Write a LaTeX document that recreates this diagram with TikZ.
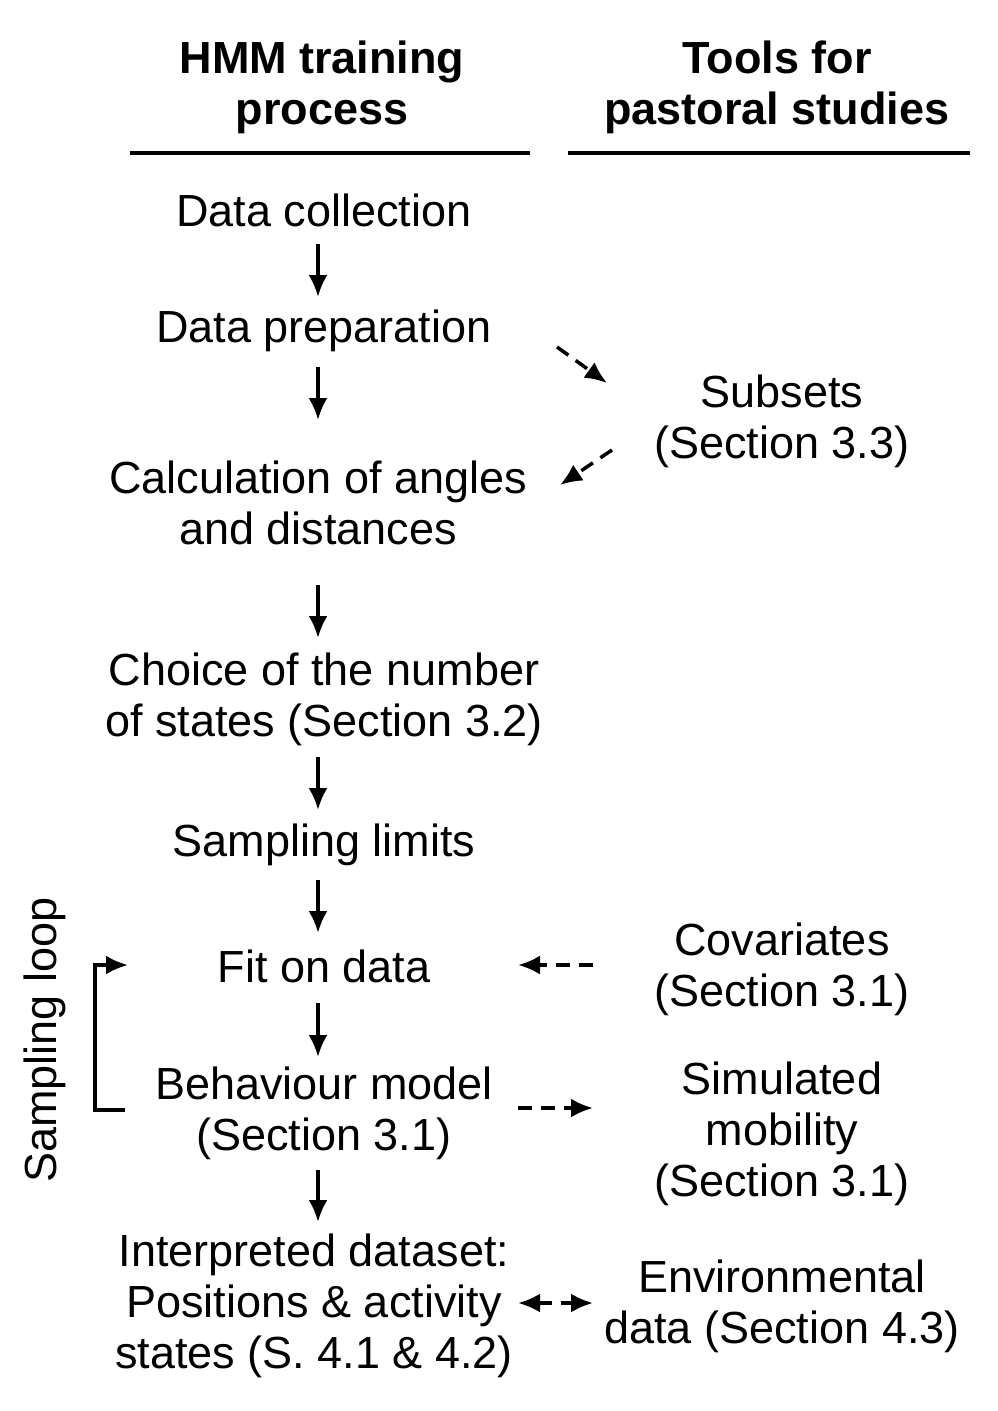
\documentclass[tikz,border=0pt]{standalone}
\usepackage{fontspec}
\setmainfont{Liberation Sans}
\usetikzlibrary{arrows.meta}
\begin{document}
\begin{tikzpicture}[x=1pt,y=-1pt,
  t/.style={align=center,font=\fontsize{45}{51}\selectfont,inner sep=0pt},
  h/.style={t,font=\fontsize{45}{51}\selectfont\bfseries},
  ar/.style={line width=3.5pt,-{Latex[length=22pt,width=19pt]}},
  da/.style={ar,dash pattern=on 14pt off 9pt},
  dd/.style={da,{Latex[length=22pt,width=19pt]}-{Latex[length=22pt,width=19pt]}}]
\useasboundingbox (0,0) rectangle (997,1411);
\node[h] (h1) at (322,87) {HMM training\\process};
\node[h] (h2) at (777,87) {Tools for\\pastoral studies};
\draw[line width=4pt] (130,153) -- (530,153);
\draw[line width=4pt] (568,153) -- (970,153);
\node[t] (n1) at (324,210) {Data collection};
\node[t] (n2) at (324,331) {Data preparation};
\node[t] (n3) at (318,503) {Calculation of angles\\and distances};
\node[t] (n4) at (324,699) {Choice of the number\\of states (Section 3.2)};
\node[t] (n5) at (324,845) {Sampling limits};
\node[t] (n6) at (324,966) {Fit on data};
\node[t] (n7) at (324,1113) {Behaviour model\\(Section 3.1)};
\node[t] (n8) at (314,1306) {Interpreted dataset:\\Positions \& activity\\states (S. 4.1 \& 4.2)};
\node[t] (r1) at (782,421) {Subsets\\(Section 3.3)};
\node[t] (r2) at (782,969) {Covariates\\(Section 3.1)};
\node[t] (r3) at (782,1134) {Simulated\\mobility\\(Section 3.1)};
\node[t] (r4) at (782,1306) {Environmental\\data (Section 4.3)};
\node[t,rotate=90] (loop) at (45,1040) {Sampling loop};
\foreach \a/\b in {244/297,367/420,585/638,757/810,880/933,1003/1057,1170/1222}
  \draw[ar] (318,\a) -- (318,\b);
\draw[da] (557,347) -- (607,383);
\draw[da] (612,450) -- (560,485);
\draw[da] (593,965) -- (518,965);
\draw[da] (518,1108) -- (593,1108);
\draw[dd] (518,1303) -- (593,1303);
\draw[ar] (125,1110) -- (95,1110) -- (95,965) -- (128,965);
\end{tikzpicture}
\end{document}
